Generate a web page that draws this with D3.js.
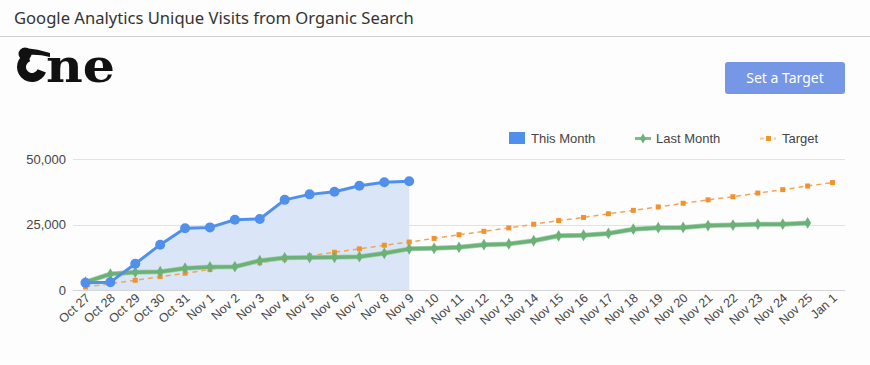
<!DOCTYPE html>
<html><head><meta charset="utf-8">
<script src="https://cdn.jsdelivr.net/npm/d3@7/dist/d3.min.js"></script>
<style>
html,body{margin:0;padding:0;background:#fdfdfd;}
svg{display:block;}
</style></head>
<body>
<script>
const categories = ["Oct 27","Oct 28","Oct 29","Oct 30","Oct 31","Nov 1","Nov 2","Nov 3","Nov 4","Nov 5","Nov 6","Nov 7","Nov 8","Nov 9","Nov 10","Nov 11","Nov 12","Nov 13","Nov 14","Nov 15","Nov 16","Nov 17","Nov 18","Nov 19","Nov 20","Nov 21","Nov 22","Nov 23","Nov 24","Nov 25","Jan 1"];
const thisMonth = [2800,3000,10000,17300,23600,23900,26800,27100,34400,36500,37500,39800,41100,41500];
const lastMonth = [3000,6100,6800,7000,8300,8800,8900,11200,12300,12400,12500,12700,14000,15700,15900,16300,17300,17600,18800,20700,20900,21600,23200,23800,23900,24600,24800,25100,25100,25600];
const target = [1150,2400,3700,5100,6400,7800,9000,10400,11800,13000,14400,15700,17100,18300,19700,21100,22400,23700,25100,26500,27700,29100,30400,31700,33100,34400,35600,37000,38300,39700,41000];
const yTicks = [0,25000,50000];
const seriesNames = ["This Month","Last Month","Target"];

const W = 870, H = 365;
const svg = d3.select("body").append("svg").attr("width", W).attr("height", H);
svg.append("rect").attr("width", W).attr("height", H).attr("fill", "#fdfdfd");

// Header
svg.append("text").attr("x", 14).attr("y", 24).text("Google Analytics Unique Visits from Organic Search")
  .attr("font-family", "Noto Sans, Open Sans, sans-serif").attr("font-size", 16.6).attr("fill", "#333");
svg.append("line").attr("x1", 0).attr("x2", W).attr("y1", 36.5).attr("y2", 36.5).attr("stroke", "#cfcfcf");

// Logo
const logo = svg.append("g").attr("fill", "#111");
logo.append("path")
  .attr("d", d3.arc().innerRadius(6).outerRadius(15).startAngle(0.62 * Math.PI).endAngle(1.9 * Math.PI)())
  .attr("transform", "translate(32,67)");
logo.append("circle").attr("cx", 25).attr("cy", 54).attr("r", 6.5);
logo.append("path").attr("d", "M25,48 Q38,49 50,53 L50,57 Q38,54 28,55 Z");
logo.append("text").attr("x", 46).attr("y", 82).text("ne")
  .attr("font-family", "DejaVu Serif, serif").attr("font-weight", "bold").attr("font-size", 47)
  .attr("textLength", 69).attr("lengthAdjust", "spacingAndGlyphs");

// Button
const btn = svg.append("g");
btn.append("rect").attr("x", 725).attr("y", 62).attr("width", 120).attr("height", 32).attr("rx", 3).attr("fill", "#7597e6");
btn.append("text").attr("x", 785).attr("y", 83).attr("text-anchor", "middle").text("Set a Target")
  .attr("font-family", "Noto Sans, Open Sans, sans-serif").attr("font-size", 14).attr("fill", "#fff");

// Scales
const x = d3.scalePoint().domain(categories).range([73, 845]).padding(0.5);
const y = d3.scaleLinear().domain([0, 50000]).range([290, 159]);

const FONT = "Liberation Sans, Arial, sans-serif";

// Gridlines
svg.append("g").selectAll("line").data(yTicks).join("line")
  .attr("x1", 73).attr("x2", 845).attr("y1", d => Math.round(y(d)) + 0.5).attr("y2", d => Math.round(y(d)) + 0.5)
  .attr("stroke", d => d === 0 ? "#d6d6d6" : "#e3e3e3");

// Y axis labels
const yAxis = svg.append("g").attr("transform", "translate(73,0)")
  .call(d3.axisLeft(y).tickValues(yTicks).tickSize(0).tickPadding(7).tickFormat(d3.format(",")));
yAxis.select(".domain").remove();
yAxis.selectAll("text").attr("font-family", FONT).attr("font-size", 13).attr("fill", "#444");

// Area for this month
const tmData = thisMonth.map((v, i) => ({c: categories[i], v}));
svg.append("path").datum(tmData)
  .attr("d", d3.area().x(d => x(d.c)).y0(y(0)).y1(d => y(d.v)))
  .attr("fill", "#dae6f8");

// Target line
const tgData = target.map((v, i) => ({c: categories[i], v}));
svg.append("path").datum(tgData)
  .attr("d", d3.line().x(d => x(d.c)).y(d => y(d.v)))
  .attr("fill", "none").attr("stroke", "#f2a55a").attr("stroke-width", 1.5).attr("stroke-dasharray", "5,4");
svg.append("g").selectAll("rect").data(tgData).join("rect")
  .attr("x", d => x(d.c) - 2.5).attr("y", d => y(d.v) - 2.5).attr("width", 5).attr("height", 5)
  .attr("fill", "#f0922e");

// Last month line
const lmData = lastMonth.map((v, i) => ({c: categories[i], v}));
svg.append("path").datum(lmData)
  .attr("d", d3.line().x(d => x(d.c)).y(d => y(d.v)))
  .attr("fill", "none").attr("stroke", "#a8d3b0").attr("stroke-width", 5).attr("stroke-linejoin", "round");
svg.append("path").datum(lmData)
  .attr("d", d3.line().x(d => x(d.c)).y(d => y(d.v)))
  .attr("fill", "none").attr("stroke", "#6bb178").attr("stroke-width", 3.5).attr("stroke-linejoin", "round");
svg.append("g").selectAll("path").data(lmData).join("path")
  .attr("d", d3.symbol().type(d3.symbolDiamond).size(40))
  .attr("transform", d => `translate(${x(d.c)},${y(d.v)})`)
  .attr("fill", "#6bb178");

// This month line
svg.append("path").datum(tmData)
  .attr("d", d3.line().x(d => x(d.c)).y(d => y(d.v)))
  .attr("fill", "none").attr("stroke", "#5190ea").attr("stroke-width", 3).attr("stroke-linejoin", "round");
svg.append("g").selectAll("circle").data(tmData).join("circle")
  .attr("cx", d => x(d.c)).attr("cy", d => y(d.v)).attr("r", 5)
  .attr("fill", "#5190ea");

// X axis labels
const xAxis = svg.append("g").attr("transform", "translate(0,290)")
  .call(d3.axisBottom(x).tickSize(0).tickPadding(0));
xAxis.select(".domain").remove();
xAxis.selectAll("text")
  .attr("font-family", FONT).attr("font-size", 12.5).attr("fill", "#444")
  .attr("text-anchor", "end").attr("dy", 0)
  .attr("transform", "translate(5,9) rotate(-42)");

// Legend
const lg = svg.append("g").attr("font-family", FONT).attr("font-size", 13).attr("fill", "#444");
lg.append("rect").attr("x", 509).attr("y", 132).attr("width", 16).attr("height", 12).attr("fill", "#5190ea");
lg.append("text").attr("x", 531).attr("y", 143).text(seriesNames[0]);
lg.append("line").attr("x1", 635).attr("x2", 651).attr("y1", 138.5).attr("y2", 138.5).attr("stroke", "#7dbb89").attr("stroke-width", 3);
lg.append("path").attr("d", d3.symbol().type(d3.symbolDiamond).size(30)).attr("transform", "translate(643,138.5)").attr("fill", "#6bb178");
lg.append("text").attr("x", 656).attr("y", 143).text(seriesNames[1]);
lg.append("line").attr("x1", 760).attr("x2", 776).attr("y1", 138.5).attr("y2", 138.5).attr("stroke", "#f7c594").attr("stroke-width", 2).attr("stroke-dasharray", "4,3");
lg.append("rect").attr("x", 766).attr("y", 136).attr("width", 5).attr("height", 5).attr("fill", "#f0952f");
lg.append("text").attr("x", 782).attr("y", 143).text(seriesNames[2]);
</script>
</body></html>
